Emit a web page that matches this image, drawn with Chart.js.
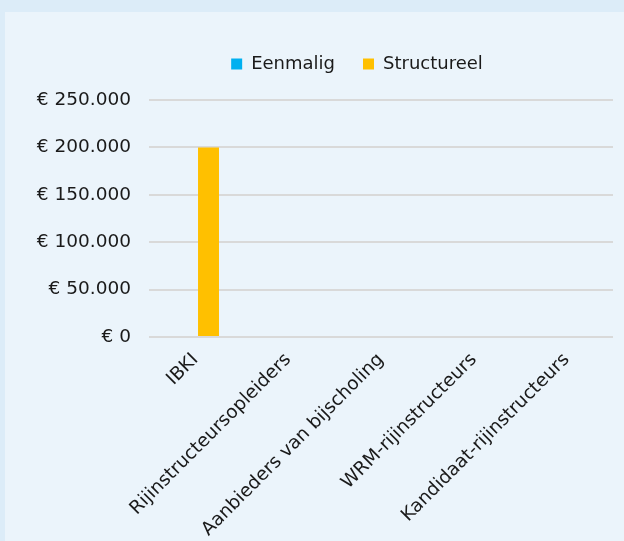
<!DOCTYPE html>
<html>
<head>
<meta charset="utf-8">
<script src="https://cdn.jsdelivr.net/npm/chart.js@4/dist/chart.umd.min.js"></script>
<style>
  html, body { margin: 0; padding: 0; }
  body { width: 624px; height: 541px; background: #dcecf8; position: relative; overflow: hidden; }
  #wrap { position: absolute; left: 5px; top: 12px; width: 619px; height: 529px; background: #ebf4fb; }
</style>
</head>
<body>
<div id="wrap"><canvas id="chart" width="619" height="529"></canvas></div>
<script>
// Data
const categories = ['IBKI', 'Rijinstructeursopleiders', 'Aanbieders van bijscholing', 'WRM-rijinstructeurs', 'Kandidaat-rijinstructeurs'];
const eenmalig = [0, 0, 0, 0, 0];
const structureel = [200000, 0, 0, 0, 0];

const FONT = 'Verdana, "DejaVu Sans", sans-serif';
const TEXT = '#1a1a1a';

const formatEuro = (value) => `€ ${value.toLocaleString('nl-NL')}`;

// legend: shifted a bit to the right and with extra room below, like the original
const legendTweak = {
  id: 'legendTweak',
  afterInit(chart) {
    const legend = chart.legend;
    if (legend) {
      const fit = legend.fit;
      legend.fit = function() {
        fit.call(this);
        this.height += 17;
      };
    }
  },
  afterLayout(chart) {
    if (chart.legend) {
      chart.legend.left += 48;
      chart.legend.right += 48;
    }
  }
};

new Chart(document.getElementById('chart'), {
  type: 'bar',
  data: {
    labels: categories,
    datasets: [{
      label: 'Eenmalig',
      data: eenmalig,
      backgroundColor: '#00b0f0'
    }, {
      label: 'Structureel',
      data: structureel,
      backgroundColor: '#ffc000'
    }]
  },
  options: {
    responsive: false,
    animation: false,
    layout: {padding: {left: 0, right: 11, top: 15, bottom: 0}},
    datasets: {bar: {categoryPercentage: 0.565, barPercentage: 0.8}},
    plugins: {
      legend: {
        labels: {
          font: {family: FONT, size: 18},
          color: TEXT,
          boxWidth: 11,
          boxHeight: 11,
          padding: 28
        }
      },
      tooltip: {enabled: false}
    },
    scales: {
      x: {
        grid: {display: false},
        border: {display: false},
        ticks: {
          font: {family: FONT, size: 18.5},
          color: TEXT,
          minRotation: 45,
          maxRotation: 45,
          padding: 4
        },
        afterFit(scale) {
          scale.height = 204;
        }
      },
      y: {
        min: 0,
        max: 250000,
        ticks: {
          stepSize: 50000,
          font: {family: FONT, size: 18.5},
          color: TEXT,
          padding: 18,
          callback: formatEuro
        },
        grid: {color: '#d9d9d9', lineWidth: 2, drawTicks: false},
        border: {display: false},
        afterFit(scale) {
          scale.width = 144;
        }
      }
    }
  },
  plugins: [legendTweak]
});
</script>
</body>
</html>
